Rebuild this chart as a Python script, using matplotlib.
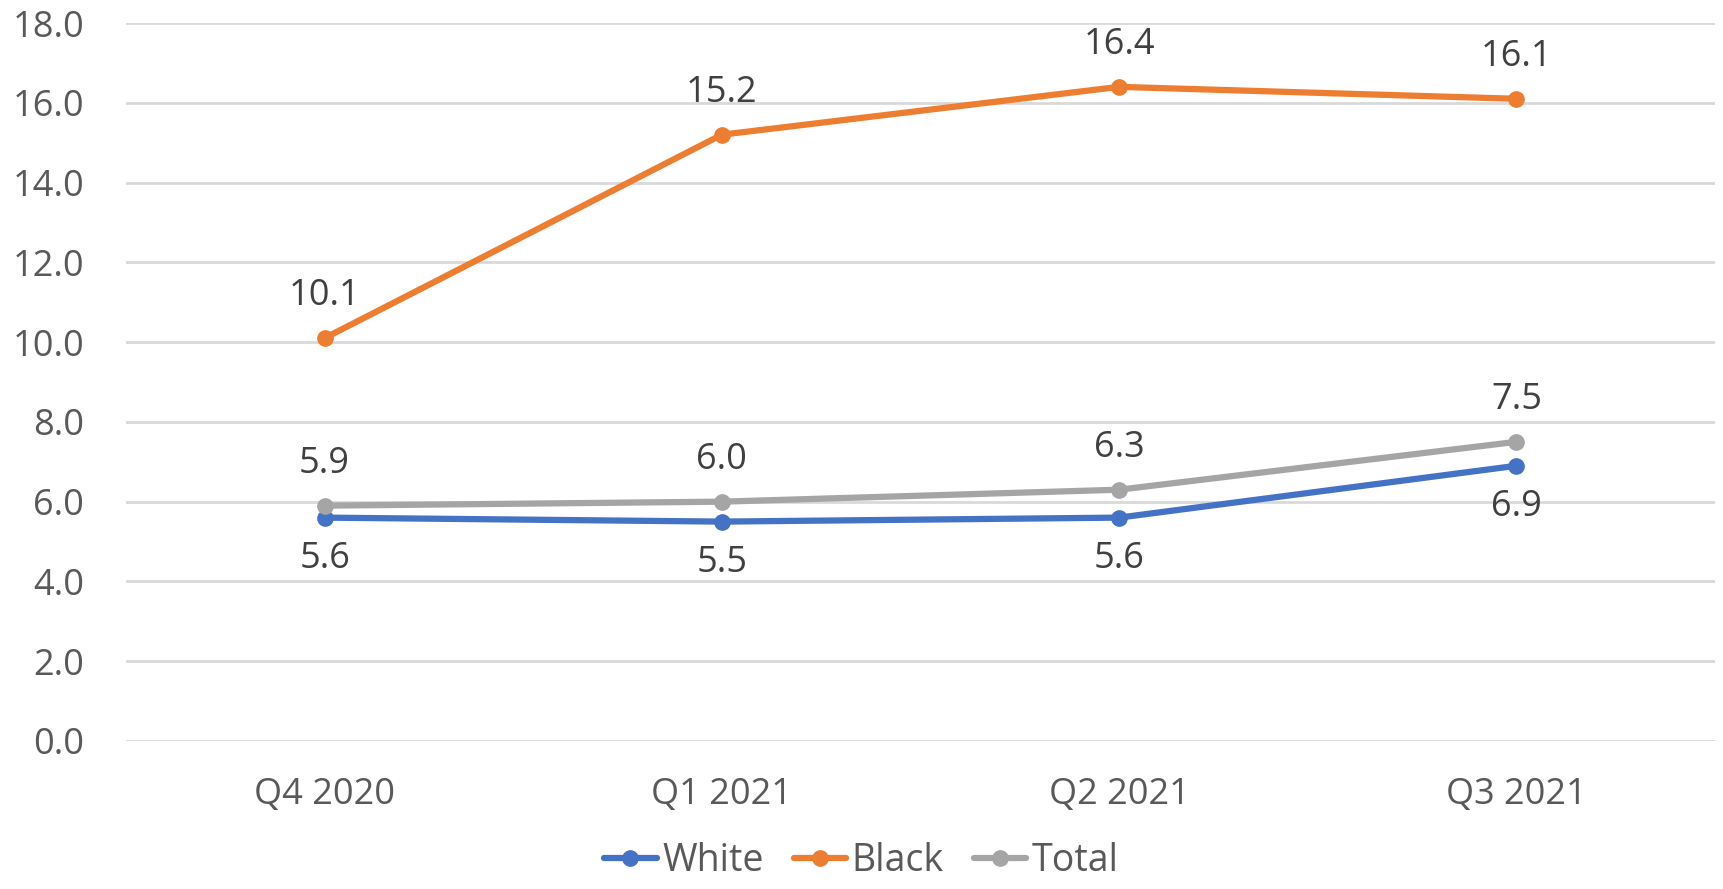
import matplotlib
matplotlib.use("Agg")
import matplotlib.pyplot as plt

quarters = ["Q4 2020", "Q1 2021", "Q2 2021", "Q3 2021"]
white = [5.6, 5.5, 5.6, 6.9]
black = [10.1, 15.2, 16.4, 16.1]
total = [5.9, 6.0, 6.3, 7.5]

plt.rcParams['font.family'] = ['Open Sans', 'DejaVu Sans']

fig = plt.figure(figsize=(17.23, 8.89), dpi=100)
ax = fig.add_axes([0.0731, 0.1665, 0.9223, 0.8076])

x = range(len(quarters))
series = [("White", white, "#4472C4", "below"),
          ("Black", black, "#ED7D31", "above"),
          ("Total", total, "#A5A5A5", "above")]
for name, vals, col, pos in series:
    ax.plot(x, vals, color=col, lw=4.5, marker="o", ms=11, label=name,
            solid_capstyle="round", zorder=3)
    for i, v in zip(x, vals):
        off = 30 if pos == "above" else -30
        ax.annotate("%.1f" % v, (i, v), xytext=(0, off), textcoords="offset points",
                    ha="center", va="center", fontsize=26, color="#404040")

ax.set_xlim(-0.5, 3.5)
ax.set_ylim(0, 18)
ax.set_yticks(range(0, 19, 2))
ax.set_yticklabels(["%.1f" % v for v in range(0, 19, 2)])
ax.set_xticks(list(x))
ax.set_xticklabels(quarters)
ax.tick_params(axis="both", length=0, labelsize=26, labelcolor="#595959")
ax.tick_params(axis="y", pad=30)
ax.tick_params(axis="x", pad=26)
ax.grid(axis="y", color="#D9D9D9", lw=2)
ax.set_axisbelow(True)
for s in ax.spines.values():
    s.set_visible(False)

leg = fig.legend(loc="lower center", ncol=3, frameon=False, fontsize=27,
                 bbox_to_anchor=(0.5, -0.028), handlelength=1.4, columnspacing=0.8,
                 handletextpad=0.15, labelcolor="#595959")

fig.savefig("out.png", dpi=100)
